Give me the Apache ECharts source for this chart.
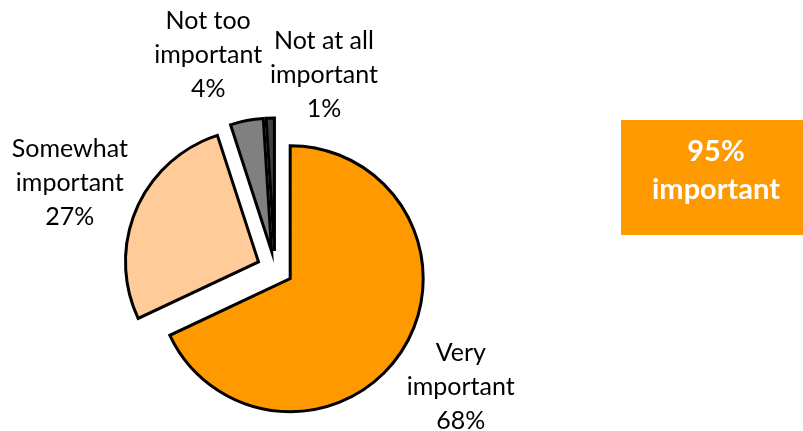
<!DOCTYPE html>
<html><head><meta charset="utf-8">
<script src="https://cdn.jsdelivr.net/npm/echarts@6/dist/echarts.min.js"></script>
<style>html,body{margin:0;padding:0;background:#fff}#c{width:803px;height:431px}</style>
</head><body><div id="c"></div>
<script>
const categories = ['Very important', 'Somewhat important', 'Not too important', 'Not at all important'];
const labelNames = ['Very\nimportant', 'Somewhat\nimportant', 'Not too\nimportant', 'Not at all\nimportant'];
const values = [68, 27, 4, 1];
const colors = ['#FF9900', '#FFCC99', '#808080', '#404040'];
const calloutLines = ['95%', 'important'];
// label placement tuning (leader lengths, hidden lines)
const lineLen = [69, 66, 67, 43];
const lineLen2 = [0, 6, 26, 0];
const labelDist = [0, 0, 0, -55];

const FONT = 'Lato, "Liberation Sans", sans-serif';
const chart = echarts.init(document.getElementById('c'), null, {renderer: 'canvas'});
chart.setOption({
  animation: false,
  series: [{
    type: 'pie',
    center: [275, 269],
    radius: 133,
    startAngle: 90,
    clockwise: true,
    selectedMode: 'multiple',
    selectedOffset: 18,
    avoidLabelOverlap: false,
    itemStyle: {borderColor: '#000', borderWidth: 3, borderJoin: 'miter'},
    emphasis: {disabled: true},
    select: {itemStyle: {borderColor: '#000', borderWidth: 3}},
    label: {
      show: true,
      position: 'outside',
      color: '#000',
      fontFamily: FONT,
      fontSize: 25,
      lineHeight: 34,
      rich: {t: {align: 'center', fontFamily: FONT, fontSize: 25, lineHeight: 34, color: '#000'}}
    },
    labelLine: {show: false},
    labelLayout: {align: 'center'},
    data: values.map((v, i) => ({
      name: categories[i],
      value: v,
      selected: true,
      itemStyle: {color: colors[i]},
      label: {
        distanceToLabelLine: labelDist[i],
        formatter: (labelNames[i] + '\n' + v + '%').split('\n').map(s => '{t|' + s + '}').join('\n')
      },
      labelLine: {show: false, length: lineLen[i], length2: lineLen2[i]}
    }))
  }],
  graphic: [{
    type: 'group',
    left: 621,
    top: 120,
    children: [
      {type: 'rect', shape: {x: 0, y: 0, width: 200, height: 115}, style: {fill: '#FF9900'}},
      {type: 'text', x: 95, y: 51, style: {
        text: calloutLines.join('\n'), fill: '#fff', font: 'bold 29px ' + FONT,
        lineHeight: 38, align: 'center', verticalAlign: 'middle'
      }}
    ]
  }]
});
</script></body></html>
